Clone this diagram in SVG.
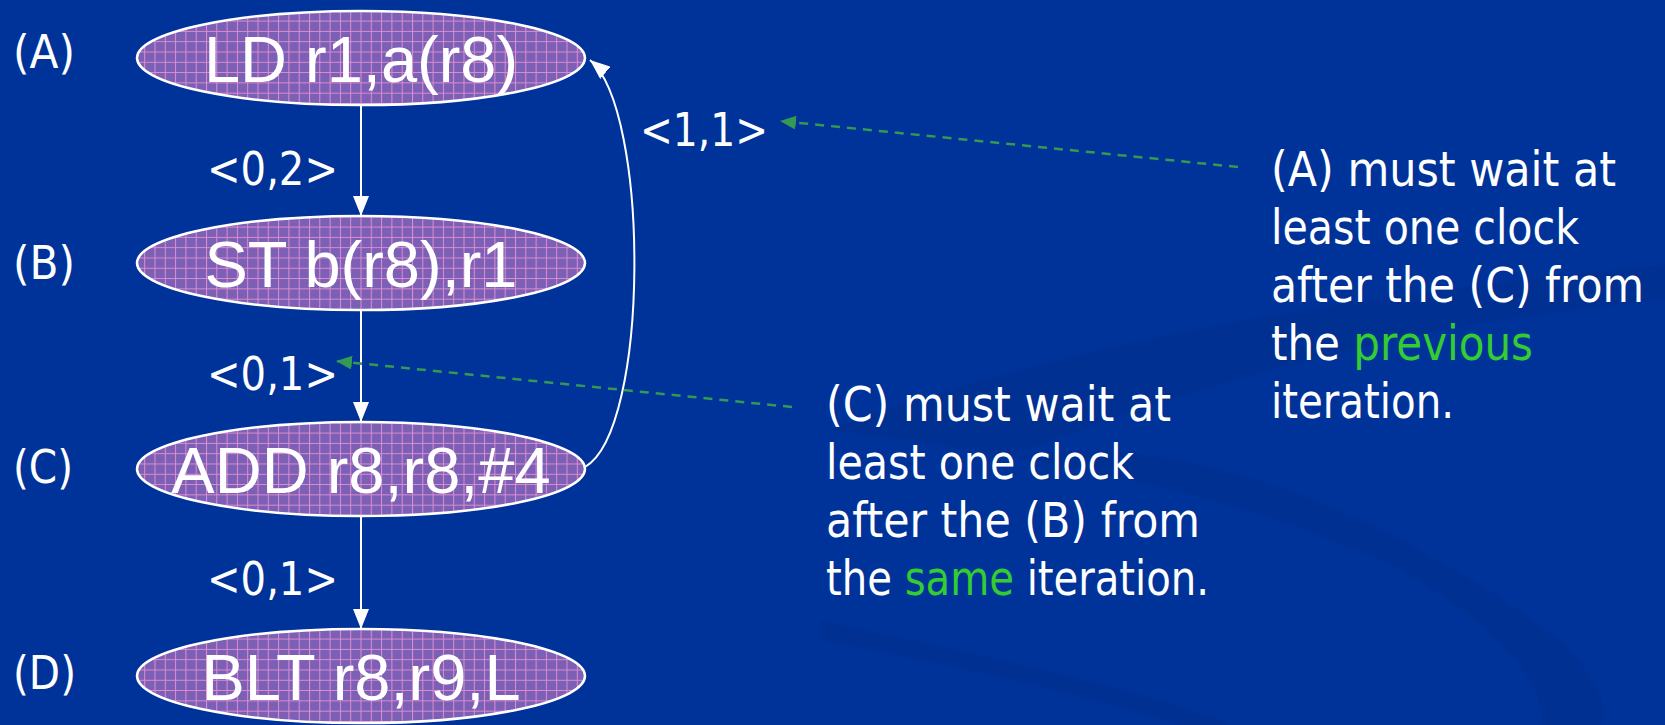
<svg xmlns="http://www.w3.org/2000/svg" width="1665" height="725" viewBox="0 0 1665 725">
<defs>
<pattern id="grid" patternUnits="userSpaceOnUse" width="10.3" height="10.3">
<rect width="10.3" height="10.3" fill="#7b60b6"/>
<path d="M0 0.5 H10.3 M0.5 0 V10.3" stroke="#e08cd0" stroke-width="1" fill="none"/>
</pattern>
<marker id="wh" viewBox="0 0 20 16" refX="20" refY="8" markerWidth="20" markerHeight="16" markerUnits="userSpaceOnUse" orient="auto">
<path d="M0 0 L20 8 L0 16 Z" fill="#ffffff"/>
</marker>
<marker id="gr" viewBox="0 0 16 14" refX="16" refY="7" markerWidth="16" markerHeight="14" markerUnits="userSpaceOnUse" orient="auto">
<path d="M0 0 L16 7 L0 14 Z" fill="#339955"/>
</marker>
<style>
.node ellipse{fill:url(#grid);stroke:#ffffff;stroke-width:2.5}
.node text{font-family:"Liberation Sans",Arial,sans-serif;font-size:65px;fill:#ffffff;text-anchor:middle}
.lbl{font-family:"DejaVu Sans Condensed","DejaVu Sans",sans-serif;font-size:46px;fill:#ffffff}
.note{font-family:"DejaVu Sans Condensed","DejaVu Sans",sans-serif;font-size:48px;fill:#ffffff}
.g{fill:#33cc33}
.edge{stroke:#ffffff;stroke-width:2;fill:none;marker-end:url(#wh)}
.dash{stroke:#339955;stroke-width:2.5;stroke-dasharray:9 7;fill:none;marker-end:url(#gr)}
</style>
</defs>
<rect width="1665" height="725" fill="#003399"/>
<g id="background" fill="#00308f" opacity="0.75">
<path d="M830 430 C1100 330 1400 290 1665 265 L1665 300 C1430 320 1200 380 1000 460 C1180 420 1400 520 1560 640 C1600 680 1610 710 1600 725 L1540 725 C1550 690 1500 620 1380 560 C1200 480 980 450 830 430 Z"/>
<path d="M820 620 C1000 660 1150 690 1230 725 L1180 725 C1100 700 980 670 820 640 Z"/>
</g>
<g id="label-A"><text class="lbl" x="13" y="68" textLength="62" lengthAdjust="spacingAndGlyphs">(A)</text></g>
<g id="label-B"><text class="lbl" x="13" y="279" textLength="62" lengthAdjust="spacingAndGlyphs">(B)</text></g>
<g id="label-C"><text class="lbl" x="13" y="483" textLength="60" lengthAdjust="spacingAndGlyphs">(C)</text></g>
<g id="label-D"><text class="lbl" x="13" y="689" textLength="63" lengthAdjust="spacingAndGlyphs">(D)</text></g>
<g id="connectors">
<line class="edge" x1="361" y1="104" x2="361" y2="216"/>
<line class="edge" x1="361" y1="310" x2="361" y2="422"/>
<line class="edge" x1="361" y1="516" x2="361" y2="629"/>
<path class="edge" d="M585 467 C650 430 650 110 590 60"/>
<path class="dash" d="M1238 167 L780 121"/>
<path class="dash" d="M792 407 L336 361"/>
</g>
<g id="edge-labels">
<text class="lbl" x="207" y="185" textLength="131" lengthAdjust="spacingAndGlyphs">&lt;0,2&gt;</text>
<text class="lbl" x="207" y="390" textLength="131" lengthAdjust="spacingAndGlyphs">&lt;0,1&gt;</text>
<text class="lbl" x="207" y="595" textLength="131" lengthAdjust="spacingAndGlyphs">&lt;0,1&gt;</text>
<text class="lbl" x="640" y="146" textLength="128" lengthAdjust="spacingAndGlyphs">&lt;1,1&gt;</text>
</g>
<g id="node-A" class="node"><ellipse cx="361" cy="58" rx="224" ry="47"/><text x="361" y="82">LD r1,a(r8)</text></g>
<g id="node-B" class="node"><ellipse cx="361" cy="263" rx="224" ry="47"/><text x="361" y="287">ST b(r8),r1</text></g>
<g id="node-C" class="node"><ellipse cx="361" cy="469" rx="224" ry="47"/><text x="361" y="493">ADD r8,r8,#4</text></g>
<g id="node-D" class="node"><ellipse cx="361" cy="676" rx="224" ry="47"/><text x="361" y="700">BLT r8,r9,L</text></g>
<g id="note-C">
<text class="note" x="826" y="421" textLength="345" lengthAdjust="spacingAndGlyphs">(C) must wait at</text>
<text class="note" x="826" y="479" textLength="308" lengthAdjust="spacingAndGlyphs">least one clock</text>
<text class="note" x="826" y="537" textLength="374" lengthAdjust="spacingAndGlyphs">after the (B) from</text>
<text class="note" x="826" y="595" textLength="383" lengthAdjust="spacingAndGlyphs">the <tspan class="g">same</tspan> iteration.</text>
</g>
<g id="note-A">
<text class="note" x="1271" y="186" textLength="345" lengthAdjust="spacingAndGlyphs">(A) must wait at</text>
<text class="note" x="1271" y="244" textLength="308" lengthAdjust="spacingAndGlyphs">least one clock</text>
<text class="note" x="1271" y="302" textLength="373" lengthAdjust="spacingAndGlyphs">after the (C) from</text>
<text class="note" x="1271" y="360" textLength="262" lengthAdjust="spacingAndGlyphs">the <tspan class="g">previous</tspan></text>
<text class="note" x="1271" y="418" textLength="183" lengthAdjust="spacingAndGlyphs">iteration.</text>
</g>
</svg>
